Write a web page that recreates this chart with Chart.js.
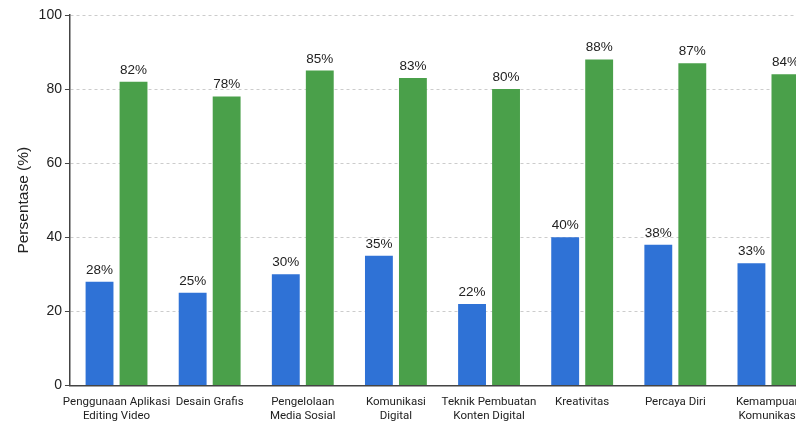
<!DOCTYPE html>
<html>
<head>
<meta charset="utf-8">
<script src="https://cdn.jsdelivr.net/npm/chart.js@4.4.1/dist/chart.umd.min.js"></script>
<style>
  html, body { margin: 0; padding: 0; background: #fff; overflow: hidden; }
  #wrap { width: 822px; height: 425px; }
</style>
</head>
<body>
<div id="wrap"><canvas id="skillChart" width="822" height="425"></canvas></div>
<script>
const categories = [
    ['Penggunaan Aplikasi', 'Editing Video'],
    'Desain Grafis',
    ['Pengelolaan', 'Media Sosial'],
    ['Komunikasi', 'Digital'],
    ['Teknik Pembuatan', 'Konten Digital'],
    'Kreativitas',
    'Percaya Diri',
    ['Kemampuan', 'Komunikasi']
];
const sebelum = [28, 25, 30, 35, 22, 40, 38, 33];
const sesudah = [82, 78, 85, 83, 80, 88, 87, 84];
const yTicks = [0, 20, 40, 60, 80, 100];

const FONT = "'Liberation Sans', Arial, sans-serif";
const LABEL_FONT = "Roboto, 'Liberation Sans', Arial, sans-serif";

// draws "xx%" above every bar
const barLabels = {
    id: 'barLabels',
    afterDatasetsDraw(chart) {
        const c = chart.ctx;
        c.save();
        c.font = '13.5px ' + FONT;
        c.fillStyle = '#222';
        c.textAlign = 'center';
        c.textBaseline = 'bottom';
        chart.data.datasets.forEach((ds, i) => {
            chart.getDatasetMeta(i).data.forEach((bar, j) => {
                c.fillText(ds.data[j] + '%', bar.x, bar.y - 5);
            });
        });
        c.restore();
    }
};

const ctx = document.getElementById('skillChart').getContext('2d');
const skillChart = new Chart(ctx, {
    type: 'bar',
    data: {
        labels: categories,
        datasets: [{
            label: 'Sebelum',
            data: sebelum,
            backgroundColor: '#2f72d6',
            categoryPercentage: 0.73,
            barPercentage: 0.82
        }, {
            label: 'Sesudah',
            data: sesudah,
            backgroundColor: '#4aa04a',
            categoryPercentage: 0.73,
            barPercentage: 0.82
        }]
    },
    options: {
        responsive: false,
        animation: false,
        layout: { padding: { top: 15, right: 7, left: 14, bottom: 0 } },
        plugins: {
            legend: { display: false },
            tooltip: { enabled: false }
        },
        scales: {
            x: {
                grid: { display: false },
                border: { color: '#444', width: 1.5 },
                ticks: {
                    color: '#222',
                    font: { family: LABEL_FONT, size: 11.5 },
                    maxRotation: 0,
                    autoSkip: false,
                    padding: 2
                }
            },
            y: {
                min: 0,
                max: 100,
                afterBuildTicks(axis) {
                    axis.ticks = yTicks.map(v => ({ value: v }));
                },
                grid: {
                    color: '#cccccc',
                    tickBorderDash: [],
                    tickColor: '#444',
                    tickLength: 5
                },
                border: { color: '#444', width: 1.5, dash: [3, 3] },
                ticks: {
                    color: '#222',
                    font: { family: FONT, size: 14 },
                    padding: 3
                },
                title: {
                    display: true,
                    text: 'Persentase (%)',
                    color: '#222',
                    font: { family: FONT, size: 15.5 },
                    padding: { top: 0, bottom: 3 }
                }
            }
        }
    },
    plugins: [barLabels]
});
</script>
</body>
</html>
